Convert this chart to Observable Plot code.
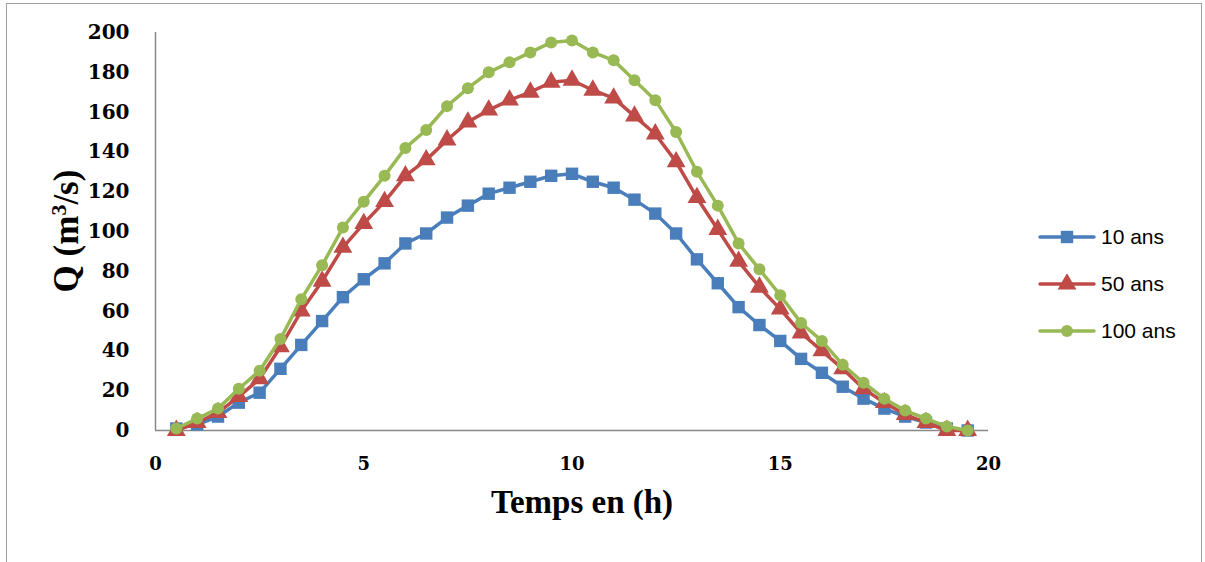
<!DOCTYPE html>
<html>
<head>
<meta charset="utf-8">
<script src="https://cdn.jsdelivr.net/npm/d3@7"></script>
<script src="https://cdn.jsdelivr.net/npm/@observablehq/plot@0.6"></script>
<style>
  html, body { margin: 0; padding: 0; background: #fff; }
  #wrap { position: relative; width: 1205px; height: 562px; overflow: hidden; }
  #frame { position: absolute; left: 6px; top: 3px; width: 1196px; height: 580px; border: 1px solid #a0a0a0; box-sizing: border-box; pointer-events: none; }
  #legend { position: absolute; left: 1038px; top: 213px; font-family: "Liberation Sans", Arial, sans-serif; font-size: 21px; color: #000; }
  #legend .row { display: flex; align-items: center; height: 47px; }
  #legend svg { margin-right: 5px; }
</style>
</head>
<body>
<div id="wrap">
  <div id="chart"></div>
  <div id="legend"></div>
  <div id="frame"></div>
</div>
<script>
const times = [0.5,1,1.5,2,2.5,3,3.5,4,4.5,5,5.5,6,6.5,7,7.5,8,8.5,9,9.5,10,10.5,11,11.5,12,12.5,13,13.5,14,14.5,15,15.5,16,16.5,17,17.5,18,18.5,19,19.5];
const q10  = [1,3,7,14,19,31,43,55,67,76,84,94,99,107,113,119,122,125,128,129,125,122,116,109,99,86,74,62,53,45,36,29,22,16,11,7,4,1,0];
const q50  = [0,4,9,17,26,42,60,75,92,104,115,128,136,146,155,161,166,170,175,176,171,167,158,149,135,117,101,85,72,61,49,40,31,21,14,8,4,0,0];
const q100 = [1,6,11,21,30,46,66,83,102,115,128,142,151,163,172,180,185,190,195,196,190,186,176,166,150,130,113,94,81,68,54,45,33,24,16,10,6,2,0];
const seriesNames = ["10 ans","50 ans","100 ans"];
const seriesColors = ["#4A7EBB","#BE4B48","#98B954"];
const seriesSymbols = ["square","triangle","circle"];
const seriesR = [7,7,6];
const yTicks = [0,20,40,60,80,100,120,140,160,180,200];
const xTicks = [0,5,10,15,20];

const seriesValues = [q10, q50, q100];
const data = [];
seriesNames.forEach((name, i) => {
  times.forEach((t, j) => data.push({series: name, t, q: seriesValues[i][j]}));
});

const marks = [
  Plot.ruleY([0], {stroke: "#888", strokeWidth: 1.5}),
  Plot.ruleX([0], {stroke: "#888", strokeWidth: 1.5})
];
seriesNames.forEach((name, i) => {
  const d = data.filter(r => r.series === name);
  marks.push(Plot.line(d, {x: "t", y: "q", stroke: seriesColors[i], strokeWidth: 3.5}));
  marks.push(Plot.dot(d, {x: "t", y: "q", fill: seriesColors[i], symbol: seriesSymbols[i], r: seriesR[i], stroke: "none"}));
});

const chart = Plot.plot({
  width: 1205,
  height: 562,
  marginLeft: 155,
  marginRight: 217,
  marginTop: 32,
  marginBottom: 132,
  style: {background: "transparent", overflow: "visible"},
  x: {domain: [0, 20], label: null},
  y: {domain: [0, 200], label: null},
  marks: [
    ...marks,
    Plot.axisX({ticks: xTicks, tickSize: 0, tickPadding: 27, label: null, fontSize: 18, fontWeight: "bold", fontFamily: "DejaVu Serif, serif", tickFormat: d => d}),
    Plot.axisY({ticks: yTicks, tickSize: 0, tickPadding: 26, label: null, fontSize: 20, fontWeight: "bold", fontFamily: "DejaVu Serif, serif", tickFormat: d => d})
  ]
});
document.getElementById("chart").appendChild(chart);

// Axis titles as real text inside the SVG
const svg = d3.select(chart);
svg.append("text")
  .attr("transform", "translate(78,231) rotate(-90)")
  .attr("text-anchor", "middle")
  .attr("font-family", "Liberation Serif, serif")
  .attr("font-weight", "bold")
  .attr("font-size", 35)
  .attr("fill", "#000")
  .html('Q (m<tspan baseline-shift="super" font-size="22">3</tspan>/s)');
svg.append("text")
  .attr("x", 582).attr("y", 513)
  .attr("text-anchor", "middle")
  .attr("font-family", "Liberation Serif, serif")
  .attr("font-weight", "bold")
  .attr("font-size", 33)
  .attr("fill", "#000")
  .text("Temps en (h)");

// Legend
const legend = d3.select("#legend");
seriesNames.forEach((name, i) => {
  const row = legend.append("div").attr("class", "row");
  const s = row.append("svg").attr("width", 58).attr("height", 20);
  s.append("line").attr("x1", 2).attr("x2", 56).attr("y1", 10).attr("y2", 10)
    .attr("stroke", seriesColors[i]).attr("stroke-width", 3.5).attr("stroke-linecap", "round");
  const sym = d3.symbol().type(seriesSymbols[i] === "square" ? d3.symbolSquare : seriesSymbols[i] === "triangle" ? d3.symbolTriangle : d3.symbolCircle)
    .size(Math.PI * seriesR[i] * seriesR[i]);
  s.append("path").attr("d", sym()).attr("transform", "translate(29,10)").attr("fill", seriesColors[i]);
  row.append("span").text(name);
});
</script>
</body>
</html>
